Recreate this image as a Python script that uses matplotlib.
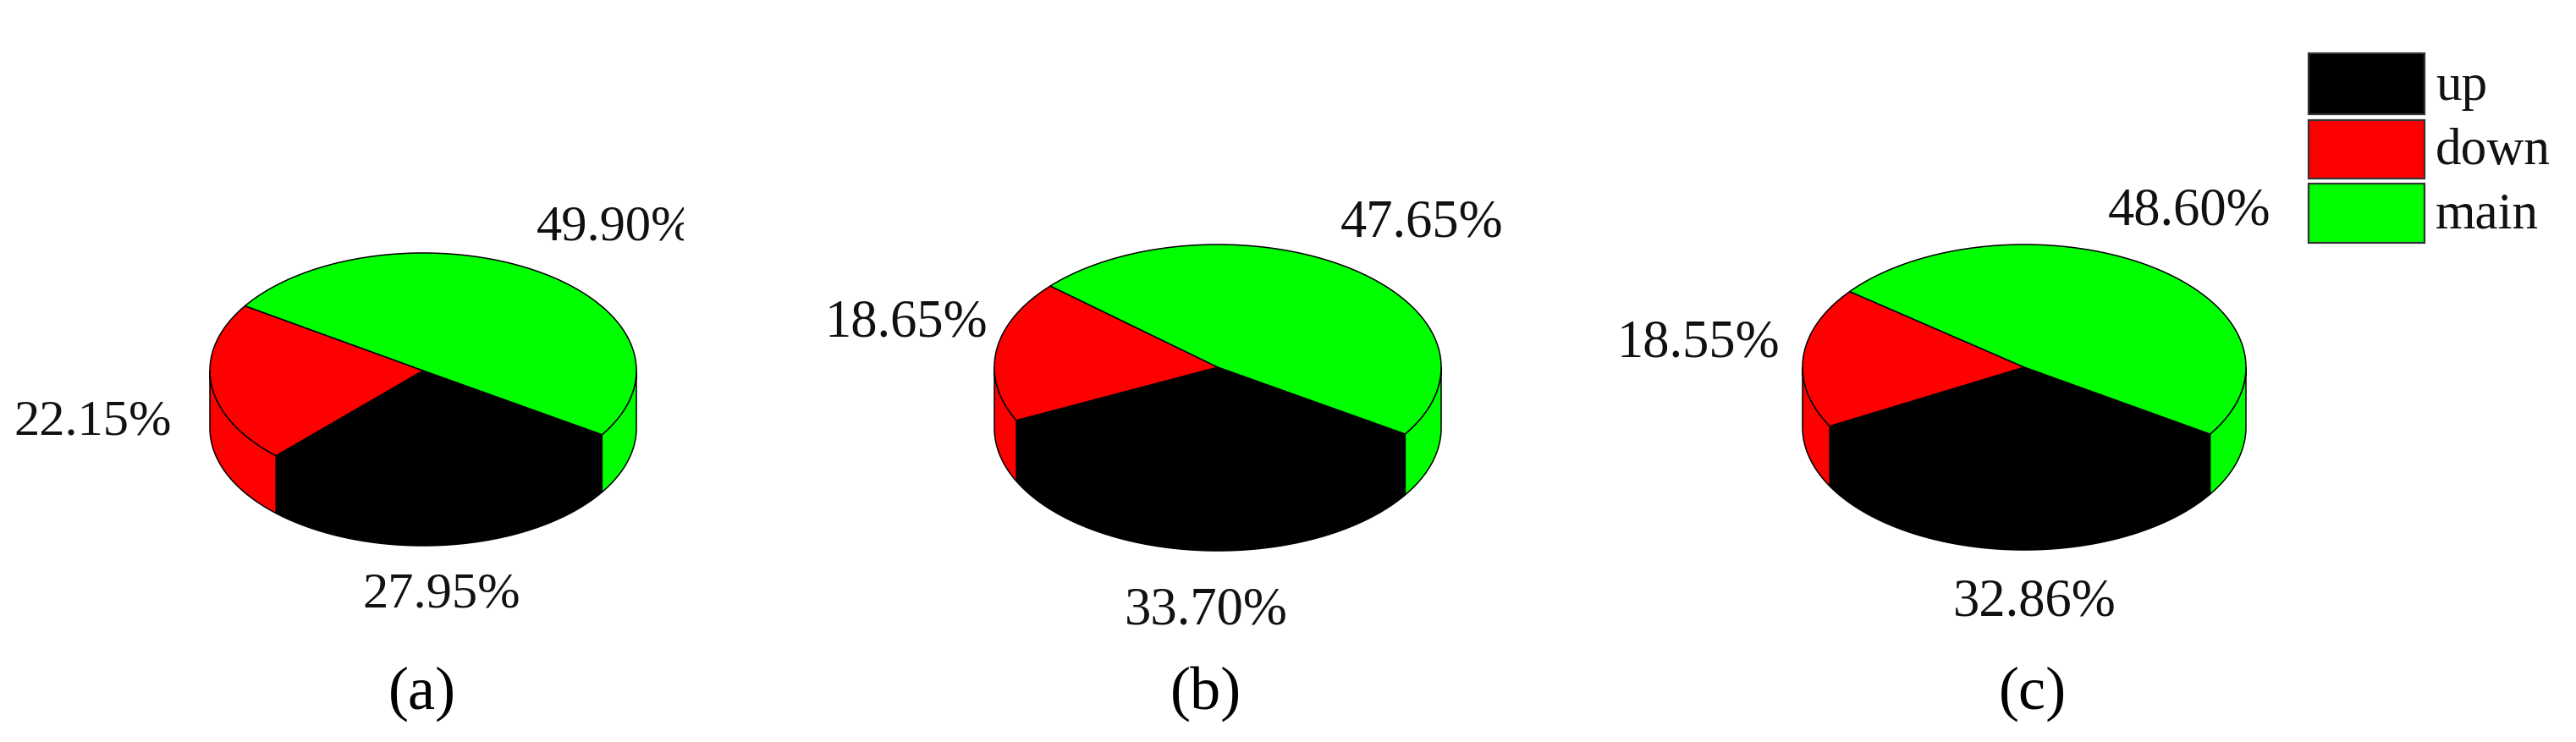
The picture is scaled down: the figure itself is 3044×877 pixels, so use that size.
import matplotlib
matplotlib.use('Agg')
import matplotlib.pyplot as plt
import numpy as np
from matplotlib.patches import Rectangle

labels = ['up', 'down', 'main']
colors = ['#000000', '#ff0000', '#00ff00']
panels = ['(a)', '(b)', '(c)']
up = [27.95, 33.70, 32.86]
down = [22.15, 18.65, 18.55]
main = [49.90, 47.65, 48.60]

# pie layout in image pixels: cx, cy, rx, ry, depth
pie_pos = [(500, 438, 252, 139, 68), (1439, 434, 264, 145, 72), (2392, 434, 262, 145, 71)]
# left x, baseline y of the up / down / main labels
up_txt = [(428, 717), (1329, 738), (2308, 728)]
down_txt = [(16, 514), (975, 398), (1910, 422)]
main_txt = [(634, 284), (1584, 279), (2491, 265)]
panel_x = [499, 1425, 2402]
txt_size = [43.5, 45, 45]
start_angle = -33
line = 1.1

plt.rcParams['font.family'] = ['Liberation Serif', 'DejaVu Serif']

fig = plt.figure(figsize=(30.44, 8.77), dpi=100)
ax = fig.add_axes([0, 0, 1, 1])
ax.set_xlim(0, 3044)
ax.set_ylim(877, 0)
ax.axis('off')


def arc(cx, cy, rx, ry, a1, a2):
    t = np.radians(np.linspace(a1, a2, 200))
    return cx + rx * np.cos(t), cy - ry * np.sin(t)


for i in range(3):
    cx, cy, rx, ry, depth = pie_pos[i]
    vals = [up[i], down[i], main[i]]
    a = start_angle
    wedges = []
    for v in vals:
        b = a - v * 3.6
        wedges.append((a, b))
        a = b

    # sides, only the part of each slice that faces front
    for (a1, a2), c in zip(wedges, colors):
        for k in (0, -360):
            s = min(a1, k)
            e = max(a2, k - 180)
            if s <= e:
                continue
            x, y = arc(cx, cy, rx, ry, s, e)
            xs = np.concatenate([x, x[::-1]])
            ys = np.concatenate([y, y[::-1] + depth])
            ax.fill(xs, ys, facecolor=c, edgecolor='black', lw=line, zorder=2)

    # top face
    for (a1, a2), c in zip(wedges, colors):
        x, y = arc(cx, cy, rx, ry, a1, a2)
        xs = np.concatenate([[cx], x])
        ys = np.concatenate([[cy], y])
        ax.fill(xs, ys, facecolor=c, edgecolor='black', lw=line, zorder=3)

    fs = txt_size[i]
    ax.text(up_txt[i][0], up_txt[i][1], f'{up[i]:.2f}%', fontsize=fs, va='baseline', ha='left', color='#111111')
    ax.text(down_txt[i][0], down_txt[i][1], f'{down[i]:.2f}%', fontsize=fs, va='baseline', ha='left', color='#111111')
    t = ax.text(main_txt[i][0], main_txt[i][1], f'{main[i]:.2f}%', fontsize=fs, va='baseline', ha='left', color='#111111')
    if i == 0:
        # the last sign is cut off in the first panel
        t.set_clip_on(True)
        t.set_clip_path(Rectangle((600, 200), 208, 120, transform=ax.transData))
    ax.text(panel_x[i], 838, panels[i], fontsize=52, va='baseline', ha='center', color='black')

# legend
box_y = [(63, 135), (142, 211), (217, 287)]
txt_y = [118, 194, 270]
for (y0, y1), ty, c, name in zip(box_y, txt_y, colors, labels):
    ax.add_patch(Rectangle((2728, y0), 137, y1 - y0, facecolor=c, edgecolor='#333333', lw=1.6))
    ax.text(2878, ty, name, fontsize=44, va='baseline', ha='left', color='#111111')

fig.savefig('out.png', dpi=100)
